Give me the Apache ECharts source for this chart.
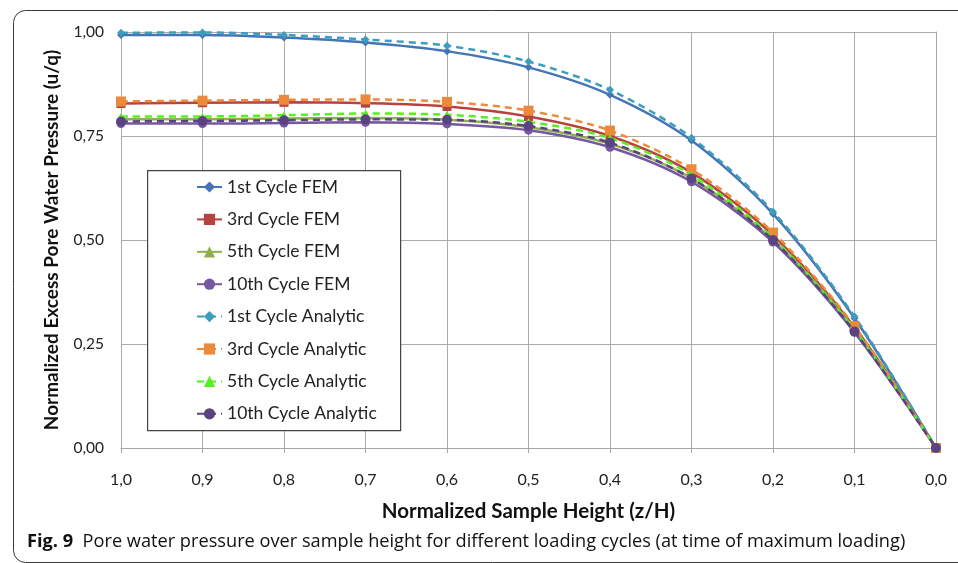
<!DOCTYPE html>
<html>
<head>
<meta charset="utf-8">
<script src="https://cdn.jsdelivr.net/npm/echarts@6/dist/echarts.min.js"></script>
<style>
html,body{margin:0;padding:0;background:#fff;}
#chart{width:958px;height:563px;}
</style>
</head>
<body>
<div id="chart"></div>
<script>
// x positions (normalized sample height z/H)
var heights = [1.0, 0.9, 0.8, 0.7, 0.6, 0.5, 0.4, 0.3, 0.2, 0.1, 0.0];
var seriesNames = ['1st Cycle FEM', '3rd Cycle FEM', '5th Cycle FEM', '10th Cycle FEM',
                   '1st Cycle Analytic', '3rd Cycle Analytic', '5th Cycle Analytic', '10th Cycle Analytic'];
var fem1  = [0.993, 0.993, 0.987, 0.975, 0.954, 0.915, 0.849, 0.739, 0.563, 0.312, 0];
var fem3  = [0.828, 0.830, 0.831, 0.829, 0.821, 0.797, 0.750, 0.662, 0.511, 0.290, 0];
var fem5  = [0.790, 0.790, 0.792, 0.793, 0.789, 0.771, 0.731, 0.648, 0.500, 0.283, 0];
var fem10 = [0.780, 0.780, 0.781, 0.783, 0.779, 0.764, 0.723, 0.640, 0.495, 0.278, 0];
var ana1  = [0.998, 0.999, 0.993, 0.982, 0.967, 0.929, 0.861, 0.746, 0.568, 0.316, 0];
var ana3  = [0.833, 0.835, 0.837, 0.838, 0.832, 0.811, 0.763, 0.670, 0.518, 0.293, 0];
var ana5  = [0.797, 0.797, 0.800, 0.804, 0.801, 0.784, 0.745, 0.657, 0.505, 0.285, 0];
var ana10 = [0.785, 0.786, 0.788, 0.790, 0.789, 0.774, 0.734, 0.648, 0.500, 0.280, 0];
var yTicks = [0, 0.25, 0.5, 0.75, 1.0];
var xTitle = 'Normalized Sample Height (z/H)';
var yTitle = 'Normalized Excess Pore Water Pressure (u/q)';
var captionBold = 'Fig. 9';
var captionText = 'Pore water pressure over sample height for different loading cycles (at time of maximum loading)';

var valuesList = [fem1, fem3, fem5, fem10, ana1, ana3, ana5, ana10];
var colors = ['#4476B5', '#B8423F', '#8FB04C', '#7558A0', '#3E9DBB', '#EB8A3C', '#55F020', '#5A4380'];
var symbols = ['diamond', 'rect', 'triangle', 'circle', 'diamond', 'rect', 'triangle', 'circle'];
var symSizes = [8, 9, 8, 9, 8, 10, 8, 10];

function pairs(vals) {
  return heights.map(function (h, i) { return [h, vals[i]]; });
}

var series = valuesList.map(function (vals, i) {
  var dashed = i >= 4;
  return {
    name: seriesNames[i],
    type: 'line',
    data: pairs(vals),
    smooth: 0.3,
    symbol: symbols[i],
    symbolSize: symSizes[i],
    showAllSymbol: true,
    color: colors[i],
    lineStyle: { width: 2.5, color: colors[i], type: dashed ? [7, 5] : 'solid' },
    itemStyle: { color: colors[i] },
    emphasis: { disabled: true },
    z: 2 + i
  };
});

var chart = echarts.init(document.getElementById('chart'), null, { renderer: 'canvas' });
chart.setOption({
  animation: false,
  backgroundColor: '#fff',
  grid: { left: 121, right: 22, top: 32, bottom: 115 },
  xAxis: {
    type: 'value', min: 0, max: 1, interval: 0.1, inverse: true,
    name: xTitle, nameLocation: 'middle', nameGap: 53,
    nameTextStyle: { fontFamily: 'Lato', fontWeight: 'bold', fontSize: 20.5, color: '#111' },
    axisLine: { show: true, onZero: false, lineStyle: { color: '#A6A6A6', width: 1 } },
    axisTick: { show: true, length: 5, lineStyle: { color: '#A6A6A6' } },
    axisLabel: { margin: 24, fontFamily: 'Lato', fontSize: 16, color: '#222',
      formatter: function (v) { return v.toFixed(1).replace('.', ','); } },
    splitLine: { show: true, lineStyle: { color: '#ABABAB', width: 1 } }
  },
  yAxis: {
    type: 'value', min: 0, max: 1, interval: 0.25,
    name: yTitle, nameLocation: 'middle', nameGap: 60, nameRotate: 90,
    nameTextStyle: { fontFamily: 'Lato', fontWeight: 'bold', fontSize: 19, color: '#111' },
    axisLine: { show: true, lineStyle: { color: '#A6A6A6', width: 1 } },
    axisTick: { show: false },
    axisLabel: { margin: 17, fontFamily: 'Lato', fontSize: 15.5, color: '#222',
      formatter: function (v) { return yTicks.indexOf(v) >= 0 ? v.toFixed(2).replace('.', ',') : ''; } },
    splitLine: { show: true, lineStyle: { color: '#ABABAB', width: 1 } }
  },
  legend: {
    orient: 'vertical', left: 196, top: 178,
    itemWidth: 25, itemHeight: 14, itemGap: 14.4,
    padding: 0,
    textStyle: { fontFamily: 'Lato', fontSize: 17.5, color: '#222', padding: [0, 0, 0, 0] },
    data: seriesNames,
    z: 20
  },
  graphic: [
    { type: 'rect', left: 11, top: 8, z: -1, silent: true,
      shape: { width: 1000, height: 552, r: 12 },
      style: { fill: 'none', stroke: '#3a3a3a', lineWidth: 1 } },
    { type: 'rect', left: 147, top: 170, z: 15, silent: true,
      shape: { width: 253, height: 260 },
      style: { fill: '#fff', stroke: '#444', lineWidth: 1.2 } },
    { type: 'text', left: 27, top: 533, silent: true,
      style: {
        text: '{b|' + captionBold + '}  ' + captionText,
        font: '18.2px "Open Sans"', fill: '#111',
        rich: { b: { fontFamily: 'Open Sans', fontWeight: 'bold', fontSize: 18.2, fill: '#111' } }
      } }
  ],
  series: series
});
</script>
</body>
</html>
